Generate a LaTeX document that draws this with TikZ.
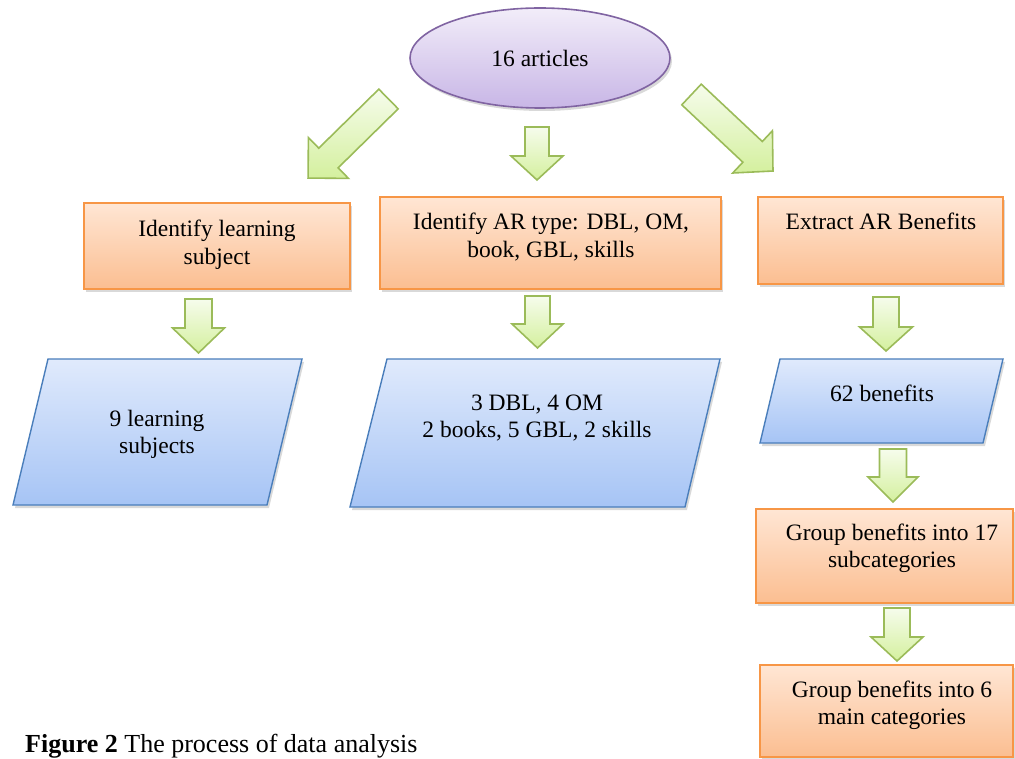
\documentclass[tikz,border=0pt]{standalone}
\usepackage{fontspec}
\setmainfont{Liberation Serif}
\usetikzlibrary{shapes.geometric,shadows}
\definecolor{orTop}{RGB}{255,230,212}
\definecolor{orBot}{RGB}{251,190,145}
\definecolor{orLine}{RGB}{247,150,70}
\definecolor{blTop}{RGB}{224,234,252}
\definecolor{blBot}{RGB}{166,196,245}
\definecolor{blLine}{RGB}{74,126,187}
\definecolor{puTop}{RGB}{242,237,249}
\definecolor{puBot}{RGB}{200,182,230}
\definecolor{puLine}{RGB}{128,100,162}
\definecolor{grTop}{RGB}{246,252,236}
\definecolor{grBot}{RGB}{212,240,158}
\definecolor{grLine}{RGB}{155,187,89}
\tikzset{
  shad/.style={drop shadow={opacity=0.3, shadow xshift=2pt, shadow yshift=-3pt}},
  obox/.style={rectangle, draw=orLine, line width=1.6pt, top color=orTop, bottom color=orBot, shad, inner sep=0pt},
  para/.style={draw=blLine, line width=1.4pt, top color=blTop, bottom color=blBot, shad},
  oval/.style={ellipse, draw=puLine, line width=1.6pt, top color=puTop, bottom color=puBot, shad, inner sep=0pt},
  arrowbody/.style={draw=grLine, line width=1.6pt, top color=grTop, bottom color=grBot, line join=miter},
  txt/.style={font=\fontsize{23.5}{27.5}\selectfont, align=center, inner sep=0pt, text=black},
}
% tail point, angle, length, shaft half-width, head half-width, head length
\newcommand\blockarrow[6]{%
  \path[shift={(#1)}, rotate=#2, arrowbody]
    (0,#4) -- ({#3-#6},#4) -- ({#3-#6},#5) -- (#3,0) -- ({#3-#6},-#5) -- ({#3-#6},-#4) -- (0,-#4) -- cycle;}
\begin{document}
\begin{tikzpicture}[x=1pt,y=-1pt]
\useasboundingbox (0,0) rectangle (1015,759);
\clip (0,0) rectangle (1015,759);

% top ellipse
\node[oval, minimum width=260, minimum height=100, txt] (art) at (540,58) {16 articles};

% first row arrows
\blockarrow{388.5,99}{-135.5}{112.8}{13.8}{28.6}{28.6}
\blockarrow{537,127}{-90}{53}{12}{26}{24}
\blockarrow{691.5,94.5}{-43.2}{111.8}{14.2}{29}{28}

% orange boxes row 1
\node[obox, minimum width=266, minimum height=86] (b1) at (217,246) {};
\node[txt] (b1t) at (217,245.25) {\strut Identify learning\\\strut subject};
\node[obox, minimum width=341, minimum height=92] (b2) at (550.5,243) {};
\node[txt] (b2t) at (551,238.25) {\strut Identify AR type: DBL, OM,\\\strut book, GBL, skills};
\node[obox, minimum width=245, minimum height=87] (b3) at (880.5,240.5) {};
\node[txt] (b3t) at (881,224.5) {\strut Extract AR Benefits};

% second row arrows
\blockarrow{198.5,299}{-90}{54}{13.5}{26}{25}
\blockarrow{537.5,296}{-90}{52}{12.5}{25.5}{24}
\blockarrow{886,297}{-90}{54}{13}{26.5}{24}

% parallelograms
\path[para] (48,359) coordinate (p1a) -- (302,359) -- (267,505) -- (13,505) -- cycle;
\node[txt] (p1t) at (157,434.25) {\strut 9 learning\\\strut subjects};
\path[para] (387,359) coordinate (p2a) -- (720,359) -- (685,507) -- (350,507) -- cycle;
\node[txt] (p2t) at (537,418.25) {\strut 3 DBL, 4 OM\\\strut 2 books, 5 GBL, 2 skills};
\path[para] (780,359) coordinate (p3a) -- (1003,359) -- (983,443) -- (760,443) -- cycle;
\node[txt] (p3t) at (882,395.5) {\strut 62 benefits};

% right column
\blockarrow{893,449}{-90}{53}{13.5}{25}{25}
\node[obox, minimum width=257, minimum height=94] (b4) at (884.5,556) {};
\node[txt] (b4t) at (892,548.25) {\strut Group benefits into 17\\\strut subcategories};
\blockarrow{897,608}{-90}{53}{13}{26}{24}
\node[obox, minimum width=253, minimum height=92] (b5) at (886.5,711) {};
\node[txt] (b5t) at (892,705.25) {\strut Group benefits into 6\\\strut main categories};

% caption
\node[anchor=base west, inner sep=0pt, font=\fontsize{26}{30}\selectfont] (cap) at (25,752) {\textbf{Figure 2} The process of data analysis};
\end{tikzpicture}
\end{document}
